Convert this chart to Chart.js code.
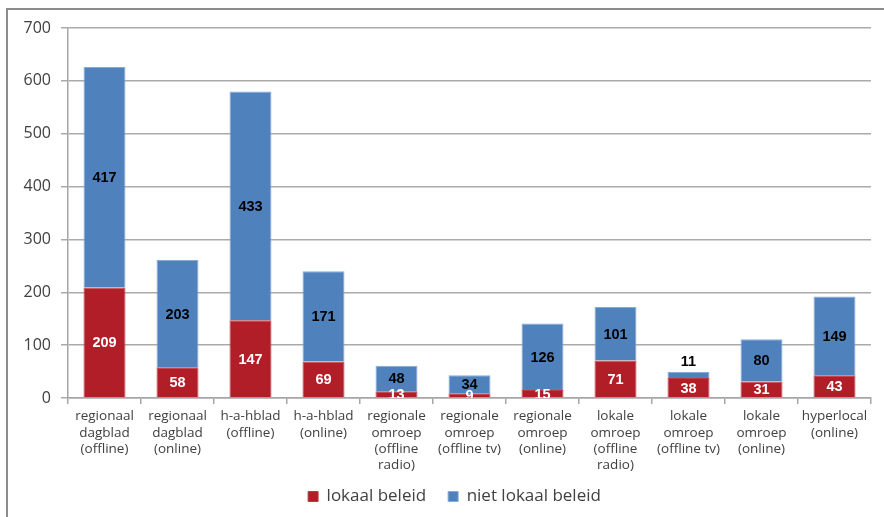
<!DOCTYPE html>
<html>
<head>
<meta charset="utf-8">
<script src="https://cdn.jsdelivr.net/npm/chart.js@4/dist/chart.umd.min.js"></script>
<style>
  html, body { margin: 0; padding: 0; background: #fff; }
  #wrap { position: relative; width: 884px; height: 517px; }
  #frame {
    position: absolute; left: 6px; top: 8px; width: 884px; height: 520px;
    border-left: 2px solid #8c8c8c; border-top: 2px solid #8c8c8c;
    box-sizing: border-box; pointer-events: none;
  }
  canvas { position: absolute; left: 0; top: 0; }
</style>
</head>
<body>
<div id="wrap">
  <canvas id="chart" width="884" height="517"></canvas>
  <div id="frame"></div>
</div>
<script>
// Media categories (multi-line axis labels)
const categories = [
  ["regionaal", "dagblad", "(offline)"],
  ["regionaal", "dagblad", "(online)"],
  ["h-a-hblad", "(offline)"],
  ["h-a-hblad", "(online)"],
  ["regionale", "omroep", "(offline", "radio)"],
  ["regionale", "omroep", "(offline tv)"],
  ["regionale", "omroep", "(online)"],
  ["lokale", "omroep", "(offline", "radio)"],
  ["lokale", "omroep", "(offline tv)"],
  ["lokale", "omroep", "(online)"],
  ["hyperlocal", "(online)"]
];

const seriesNames = ["lokaal beleid", "niet lokaal beleid"];
const lokaalBeleid = [209, 58, 147, 69, 13, 9, 15, 71, 38, 31, 43];
const nietLokaalBeleid = [417, 203, 433, 171, 48, 34, 126, 101, 11, 80, 149];

const yTicks = { min: 0, max: 700, step: 100 };

// Value labels centred in each stacked segment, clipped to the plot area
const segmentLabels = {
  id: 'segmentLabels',
  afterDatasetsDraw(chart) {
    const ctx = chart.ctx;
    const area = chart.chartArea;
    const lastIndex = chart.data.datasets.length - 1;
    ctx.save();
    ctx.beginPath();
    ctx.rect(area.left, area.top - 40, area.right - area.left, area.bottom - area.top + 40);
    ctx.clip();
    ctx.font = 'bold 14.5px "Liberation Sans", Arial, sans-serif';
    ctx.textAlign = 'center';
    ctx.textBaseline = 'middle';
    chart.data.datasets.forEach((ds, di) => {
      const meta = chart.getDatasetMeta(di);
      meta.data.forEach((bar, i) => {
        const v = ds.data[i];
        const h = Math.abs(bar.base - bar.y);
        let y = (bar.y + bar.base) / 2;
        if (di === lastIndex && h < 9) y = bar.y - 11;
        ctx.fillStyle = ds.labelColor;
        ctx.fillText(String(v), bar.x, y + 1);
      });
    });
    ctx.restore();
  }
};

// Nudge the legend right of centre, and let the category labels use the
// space beneath the axis down to the legend
const layoutTweaks = {
  id: 'layoutTweaks',
  afterLayout(chart) {
    const lg = chart.legend;
    if (lg) {
      const dx = 19, dy = -2;
      lg.left += dx; lg.right += dx;
      lg.top += dy; lg.bottom += dy;
    }
    const x = chart.scales.x;
    if (x) x.bottom += 14;
  }
};

new Chart(document.getElementById('chart'), {
  type: 'bar',
  data: {
    labels: categories,
    datasets: [
      {
        label: seriesNames[0],
        data: lokaalBeleid,
        backgroundColor: '#B21E27',
        borderColor: '#BE3A40',
        borderWidth: 1,
        labelColor: '#ffffff'
      },
      {
        label: seriesNames[1],
        data: nietLokaalBeleid,
        backgroundColor: '#4F81BD',
        borderColor: '#86AADA',
        borderWidth: 1,
        labelColor: '#000000'
      }
    ]
  },
  options: {
    responsive: false,
    animation: false,
    layout: { padding: { left: 0, right: 13, top: 28, bottom: 0 } },
    datasets: {
      bar: { categoryPercentage: 1, barPercentage: 0.575 }
    },
    scales: {
      x: {
        stacked: true,
        grid: {
          offset: true,
          drawOnChartArea: false,
          drawTicks: true,
          tickLength: 6,
          color: '#a6a6a6',
          lineWidth: 1.5
        },
        border: { color: '#a6a6a6', width: 1.5 },
        ticks: {
          color: '#404040',
          padding: 4,
          maxRotation: 0,
          autoSkip: false,
          font: { family: '"Open Sans", sans-serif', size: 13.5, lineHeight: 1.22 }
        },
        afterFit(scale) { scale.height = 70; }
      },
      y: {
        stacked: true,
        min: yTicks.min,
        max: yTicks.max,
        ticks: {
          stepSize: yTicks.step,
          color: '#404040',
          padding: 10,
          font: { family: '"Open Sans", sans-serif', size: 16 }
        },
        grid: { color: '#aaaaaa', lineWidth: 1.5, tickLength: 7 },
        border: { color: '#a6a6a6', width: 1.5 },
        afterFit(scale) { scale.width = 68; }
      }
    },
    plugins: {
      legend: {
        position: 'bottom',
        labels: {
          boxWidth: 10,
          boxHeight: 10,
          padding: 22,
          color: '#404040',
          font: { family: '"Open Sans", sans-serif', size: 17 }
        }
      },
      tooltip: { enabled: false }
    }
  },
  plugins: [segmentLabels, layoutTweaks]
});
</script>
</body>
</html>
